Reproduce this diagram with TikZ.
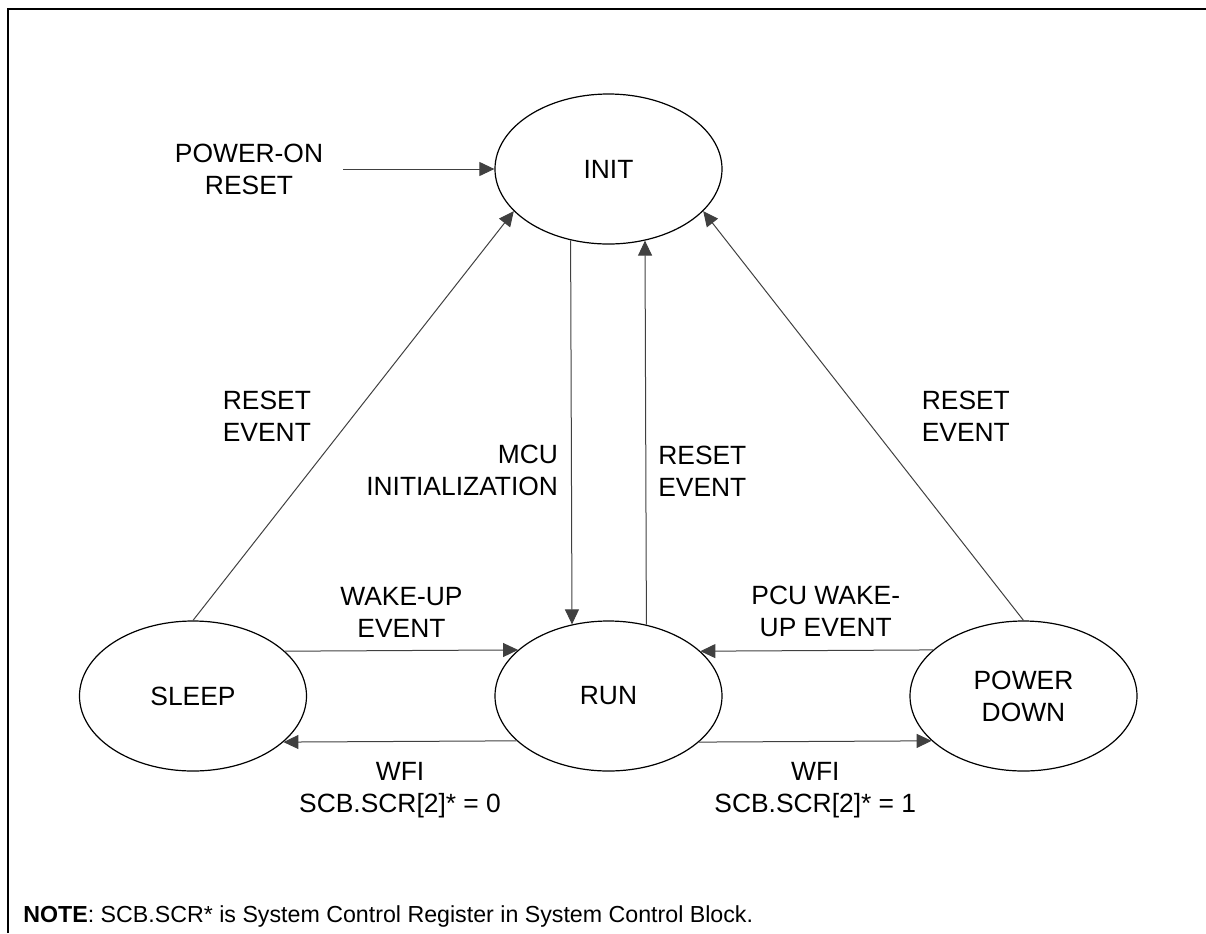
\documentclass[tikz,border=0pt]{standalone}
\usepackage{fontspec}
\setmainfont{Liberation Sans}
\usetikzlibrary{shapes.geometric,arrows.meta}

\tikzset{
  mode/.style={draw, line width=0.6pt, ellipse, minimum width=113.5pt, minimum height=75pt,
    inner sep=0pt, align=center, font=\fontsize{13.2}{16}\selectfont},
  tag/.style={inner sep=0pt, align=center, font=\fontsize{13.2}{16}\selectfont},
  flow/.style={draw=black!75, line width=0.5pt, -{Triangle[length=7.5pt,width=7pt]}},
}

\begin{document}
\begin{tikzpicture}[x=0.5pt,y=-0.5pt]
  \useasboundingbox (0,0) rectangle (1206,933);
  \draw [line width=1pt] (8,933) |- (1206,9);

  \node[mode] (init) at (608.5,169) {INIT};
  \node[mode] (sleep) at (193,696) {SLEEP};
  \node[mode] (run) at (608.5,696) {RUN};
  \node[mode] (down) at (1023.5,696) {POWER\\DOWN};

  \node[tag, inner xsep=10pt] (por) at (249,169) {POWER-ON\\RESET};
  \draw [flow] (por) -- (init);

  \draw [flow] (sleep.north) to node[tag, left=21pt] {RESET\\EVENT} (init.204);
  \draw [flow] (down.north) to node[tag, right=29pt] {RESET\\EVENT} (init.336);

  \draw [flow] (init.242.1) to node[tag, pos=0.6, left=6.5pt, align=right] {MCU\\INITIALIZATION} (run.117.9);
  \draw [flow] (run.62.1) to node[tag, pos=0.4, right=6pt, align=left] {RESET\\EVENT} (init.297.9);

  \draw [flow] (sleep.26.4) to node[tag, above=6.5pt] {WAKE-UP\\EVENT} (run.153.6);
  \draw [flow] (down.153.6) to node[tag, above=6.5pt, xshift=4.5pt] {PCU WAKE-\\UP EVENT} (run.26.4);

  \draw [flow] (run.206.4) to node[tag, below=10pt] {WFI\\SCB.SCR[2]* = 0} (sleep.333.6);
  \draw [flow] (run.333.6) to node[tag, below=10pt] {WFI\\SCB.SCR[2]* = 1} (down.206.4);

  \node[anchor=base west, inner sep=0pt, font=\fontsize{11.6}{14}\selectfont] (note) at (23,922)
    {\textbf{NOTE}: SCB.SCR* is System Control Register in System Control Block.};

\end{tikzpicture}
\end{document}
